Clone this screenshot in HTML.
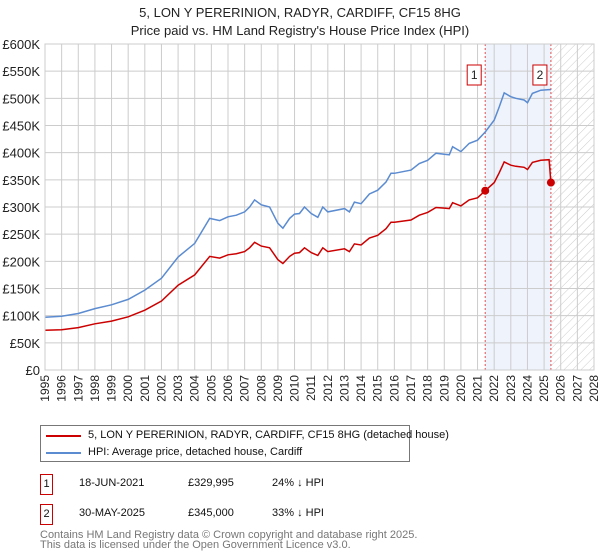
<!DOCTYPE html>
<html><head><meta charset="utf-8"><style>
body{margin:0;background:#fff;font-family:"Liberation Sans","DejaVu Sans",sans-serif;}
#wrap{position:relative;width:600px;height:560px;overflow:hidden;}
#wrap div{white-space:nowrap;}
</style></head><body>
<div id="wrap">
<svg id="chart" width="600" height="560" style="position:absolute;left:0;top:0">
<defs><pattern id="hatch" width="6" height="6" patternUnits="userSpaceOnUse" patternTransform="rotate(45)"><line x1="0" y1="0" x2="0" y2="6" stroke="#ccc" stroke-width="1"/></pattern></defs>
<text x="300" y="17" text-anchor="middle" font-size="13" fill="#222">5, LON Y PERERINION, RADYR, CARDIFF, CF15 8HG</text>
<text x="300" y="35" text-anchor="middle" font-size="13" fill="#222">Price paid vs. HM Land Registry's House Price Index (HPI)</text>
<g id="g"></g>
</svg>
<div style="position:absolute;left:40px;top:425px;width:368px;height:35px;border:1px solid #777;font-size:11px;color:#111">
 <div style="position:absolute;left:5px;top:9px;width:35px;height:2px;background:#cc0000"></div>
 <div style="position:absolute;left:47px;top:3px">5, LON Y PERERINION, RADYR, CARDIFF, CF15 8HG (detached house)</div>
 <div style="position:absolute;left:5px;top:26px;width:35px;height:2px;background:#5b8bd0"></div>
 <div style="position:absolute;left:47px;top:20px">HPI: Average price, detached house, Cardiff</div>
</div>
<div style="font-size:11px;color:#111">
 <div style="position:absolute;left:40px;top:474px;width:11px;height:19px;border:1px solid #cc0000;text-align:center;line-height:19px">1</div>
 <div style="position:absolute;left:79px;top:477px">18-JUN-2021</div>
 <div style="position:absolute;left:188px;top:477px">£329,995</div>
 <div style="position:absolute;left:272px;top:477px">24% ↓ HPI</div>
 <div style="position:absolute;left:40px;top:504px;width:11px;height:19px;border:1px solid #cc0000;text-align:center;line-height:19px">2</div>
 <div style="position:absolute;left:79px;top:507px">30-MAY-2025</div>
 <div style="position:absolute;left:188px;top:507px">£345,000</div>
 <div style="position:absolute;left:272px;top:507px">33% ↓ HPI</div>
</div>
<div style="position:absolute;left:40px;top:530px;font-size:11px;color:#777;line-height:10px">Contains HM Land Registry data © Crown copyright and database right 2025.<br>This data is licensed under the Open Government Licence v3.0.</div>
</div>
<script>
const years=[1995,1996,1997,1998,1999,2000,2001,2002,2003,2004,2004.9,2005.5,2006,2006.5,2007,2007.3,2007.6,2008,2008.5,2009,2009.3,2009.7,2010,2010.3,2010.6,2011,2011.4,2011.7,2012,2013,2013.3,2013.6,2014,2014.5,2015,2015.5,2015.8,2016,2016.5,2017,2017.5,2018,2018.5,2019,2019.3,2019.5,2020,2020.5,2021,2021.46,2022,2022.3,2022.6,2023,2023.3,2023.8,2024,2024.3,2024.8,2025.3,2025.41];
const hpiValues=[97,99,104,113,120,130,147,169,208,233,279,275,282,285,291,300,313,304,300,270,261,279,287,288,300,288,281,300,291,297,291,309,306,324,331,346,362,362,365,368,380,386,399,397,396,411,402,417,423,438,460,484,510,503,500,497,492,509,515,516,516];
const propertyValues=[73,74,78,85,90,98,110,127,156,175,209,206,212,214,218,225,235,228,225,203,196,209,215,216,225,216,211,225,218,223,218,232,230,243,248,260,272,272,274,276,285,290,299,298,297,308,302,313,317,330,345,363,383,377,375,373,369,382,386,387,345];
const saleYears=[2021.46,2025.41];
const saleValues=[329.995,345];
const saleLabels=["1","2"];
const yTicks=[0,50,100,150,200,250,300,350,400,450,500,550,600];
const yTickLabels=["£0","£50K","£100K","£150K","£200K","£250K","£300K","£350K","£400K","£450K","£500K","£550K","£600K"];
const xTicks=[];for(let y=1995;y<=2028;y++)xTicks.push(y);

const X0=45,X1=594,Y0=370,Y1=44;
const xs=v=>X0+(v-1995)*(X1-X0)/33;
const ys=v=>Y0-v*(Y0-Y1)/600;
const NS="http://www.w3.org/2000/svg";
const g=document.getElementById('g');
function mk(t,a){const e=document.createElementNS(NS,t);for(const k in a)e.setAttribute(k,a[k]);g.appendChild(e);return e;}

let e=mk('rect',{x:xs(saleYears[0]),y:Y1,width:xs(saleYears[1])-xs(saleYears[0]),height:Y0-Y1,fill:'#eef3fc'});


e=mk('rect',{x:xs(saleYears[1]),y:Y1,width:X1-xs(saleYears[1]),height:Y0-Y1,fill:'url(#hatch)'});



xTicks.forEach(t=>{
 const l=mk('line',{x1:xs(t),x2:xs(t),y1:Y1,y2:Y0,stroke:'#ccc','stroke-width':1});
 
 
 const px=xs(t)+4;
 const tx=mk('text',{x:px,y:375,'text-anchor':'end','font-size':12,fill:'#222',transform:`rotate(-90 ${px} 375)`});
 tx.textContent=t;
 
 
});
yTicks.forEach((t,i)=>{
 const l=mk('line',{x1:X0,x2:X1,y1:ys(t),y2:ys(t),stroke:'#ccc','stroke-width':1});
 
 
 const tx=mk('text',{x:40,y:ys(t)+5,'text-anchor':'end','font-size':13,fill:'#222'});
 tx.textContent=yTickLabels[i];
 
 
});

saleYears.forEach((s,i)=>{
 const l=mk('line',{x1:xs(s),x2:xs(s),y1:Y1,y2:Y0,stroke:'#e05050','stroke-width':1,'stroke-dasharray':'2,2'});
 
 
});

const pts=(arr)=>years.map((y,i)=>xs(y).toFixed(1)+','+ys(arr[i]).toFixed(1)).join(' ');
e=mk('polyline',{points:pts(hpiValues),fill:'none',stroke:'#5b8bd0','stroke-width':1.5});


e=mk('polyline',{points:pts(propertyValues),fill:'none',stroke:'#cc0000','stroke-width':1.5});



saleYears.forEach((s,i)=>{
 const c=mk('circle',{cx:xs(s),cy:ys(saleValues[i]),r:4,fill:'#cc0000'});
 
 
 const r=mk('rect',{x:xs(s)-18,y:65,width:14,height:20,fill:'#fff',stroke:'#cc0000','stroke-width':1});
 
 
 const t=mk('text',{x:xs(s)-11,y:79,'text-anchor':'middle','font-size':12,fill:'#222'});
 t.textContent=saleLabels[i];
 
 
});
e=mk('rect',{x:X0,y:Y1,width:X1-X0,height:Y0-Y1,fill:'none',stroke:'#ccc','stroke-width':1});


</script>
</body></html>
